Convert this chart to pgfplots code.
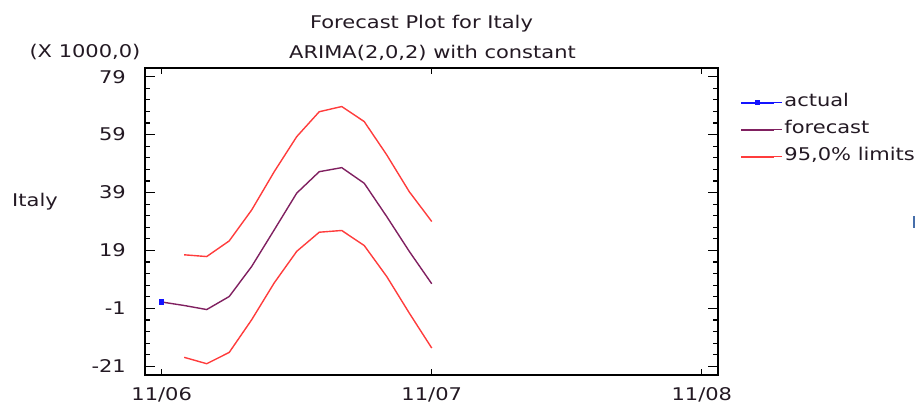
\documentclass[border=0pt]{standalone}
\usepackage{fontspec}
\setmainfont{DejaVu Sans}[FakeStretch=1.2]
\usepackage{pgfplots}
\pgfplotsset{compat=1.18}
\definecolor{fc}{RGB}{128,32,96}
\definecolor{lim}{RGB}{255,60,60}
\definecolor{act}{RGB}{20,20,255}
\definecolor{txt}{RGB}{35,25,35}
\newcommand\f{\fontsize{17.5}{21}\selectfont}
\begin{document}
\begin{tikzpicture}
\useasboundingbox (0,0) rectangle (916pt,-405pt);
\begin{axis}[
 at={(145pt,-375pt)}, anchor=south west,
 scale only axis, width=573pt, height=307pt,
 xmin=-0.742, xmax=24.72, ymin=-24, ymax=82,
 xtick={0,12,24}, xticklabels={11/06,11/07,11/08},
 ytick={-21,-1,19,39,59,79}, yticklabels={-21,-1,19,39,59,79},
 minor y tick num=4,
 tick align=inside,
 major tick length=10pt, minor tick length=5pt,
 xtick style={/pgfplots/major tick length=6pt},
 tick style={black, line width=1.2pt},
 axis line style={line width=1.3pt, black},
 ticklabel style={font=\f, text=txt},
 yticklabel style={inner sep=0pt, anchor=east, xshift=-19pt},
 xticklabel style={inner sep=0pt, anchor=north, yshift=-12pt},
 reverse legend,
 legend style={draw=none, fill=none, at={(1,1)}, anchor=north west,
   xshift=22pt, yshift=-21pt, inner sep=0pt, font=\f,
   text=txt, nodes={inner sep=1.5pt, anchor=west, text height=16pt, text depth=8pt}},
 legend cell align=left,
 legend image code/.code={\path (0pt,0pt) -- (41pt,0pt);\draw[mark repeat=2,mark phase=2,#1,line width=2pt,mark size=1.6pt] plot coordinates {(0pt,0pt) (16.5pt,0pt) (33pt,0pt)};},
]
\addplot[lim, line width=1.4pt] coordinates {
(1,17.5) (2,16.9) (3,22.3) (4,33.0) (5,46.2) (6,58.3) (7,66.9) (8,68.7) (9,63.5) (10,52.0) (11,39.3) (12,29.0)};
\addlegendentry{95,0\% limits}
\addplot[lim, line width=1.4pt, forget plot] coordinates {
(1,-17.9) (2,-20.1) (3,-16.2) (4,-4.9) (5,7.8) (6,18.7) (7,25.3) (8,25.9) (9,20.7) (10,10.0) (11,-2.6) (12,-14.7)};
\addplot[fc, line width=1.4pt] coordinates {
(0,1.2) (1,0.0) (2,-1.4) (3,3.1) (4,13.5) (5,26.1) (6,38.8) (7,46.2) (8,47.6) (9,42.2) (10,30.7) (11,18.7) (12,7.5)};
\addlegendentry{forecast}
\addplot[act, line width=1.4pt, mark=square*, mark size=2pt] coordinates {(0,1.2)};
\addlegendentry{actual}
\end{axis}
\node[anchor=base, font=\f, text=txt] at (421.5pt,-28pt) {Forecast Plot for Italy};
\node[anchor=base, font=\f, text=txt] at (432.5pt,-58pt) {ARIMA(2,0,2) with constant};
\node[anchor=base, font=\f, text=txt] at (85pt,-57pt) {(X 1000,0)};
\node[anchor=base west, inner sep=0pt, font=\f, text=txt] at (12pt,-206pt) {Italy};
\fill[color={rgb,255:red,70;green,110;blue,170}] (913pt,-216pt) rectangle (915pt,-228pt);
\end{tikzpicture}
\end{document}
